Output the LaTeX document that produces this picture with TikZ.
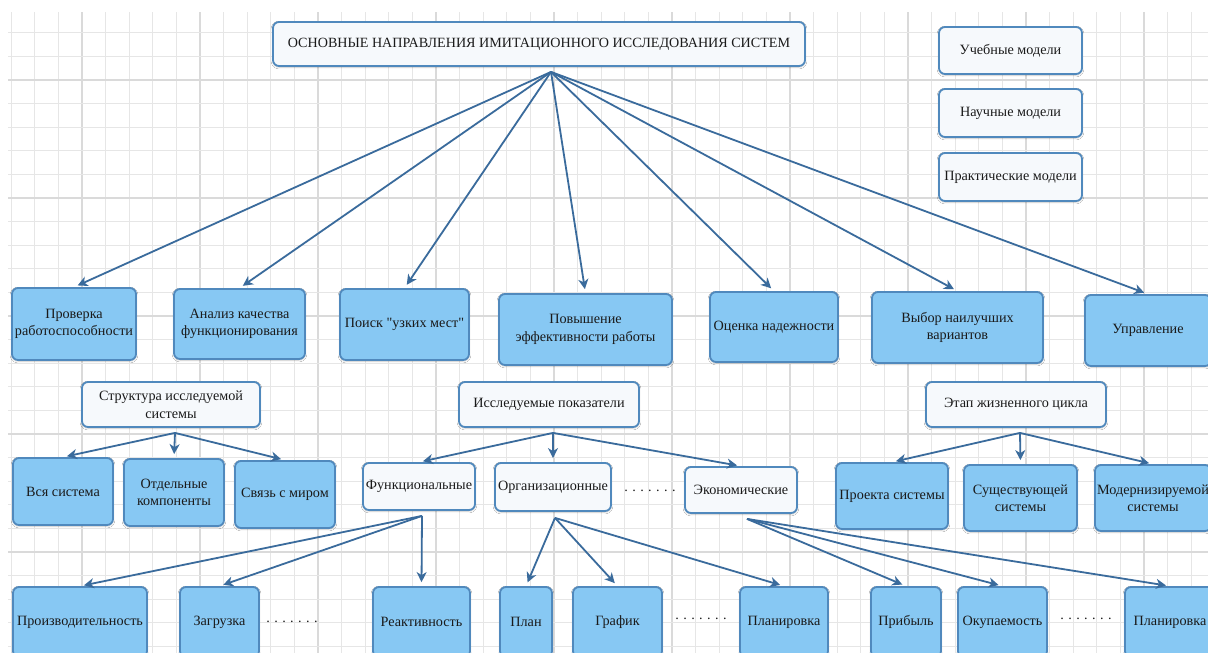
\documentclass[tikz,border=0pt]{standalone}
\usepackage{fontspec}
\setmainfont{Liberation Serif}[Ligatures=TeXOff]
\usetikzlibrary{arrows.meta,shadows.blur}
\definecolor{bluefill}{HTML}{87C8F3}
\definecolor{boxline}{HTML}{5089BD}
\definecolor{whitefill}{HTML}{F6F9FC}
\definecolor{arrowcol}{HTML}{3A6B9C}
\definecolor{gridminor}{HTML}{E6E6E6}
\definecolor{gridmajor}{HTML}{DADADA}
\definecolor{txt}{HTML}{1A1A1A}
\newcommand{\dotrow}{.\kern4.4pt.\kern4.4pt.\kern4.4pt.\kern4.4pt.\kern4.4pt.\kern4.4pt.}
\begin{document}
\begin{tikzpicture}[x=1pt,y=-1pt,
  box/.style={draw=boxline, line width=1.8pt, rounded corners=6pt, inner sep=1pt, align=center,
    font=\fontsize{14.2pt}{17.5pt}\selectfont, text=txt,
    blur shadow={shadow blur steps=6, shadow xshift=0pt, shadow yshift=-1pt, shadow opacity=25}},
  bluebox/.style={box, fill=bluefill},
  whitebox/.style={box, fill=whitefill},
  sz/.style 2 args={minimum width=#1pt, minimum height=#2pt},
  arr/.style={draw=arrowcol, line width=1.8pt, -{Stealth[length=10pt,width=10pt,inset=3pt]}, shorten >=4pt},
  dotlabel/.style={font=\fontsize{14.2pt}{16pt}\selectfont, text=txt, inner sep=0pt}
]
\useasboundingbox (0,0) rectangle (1208,653);
\clip (0,0) rectangle (1208,653);
\fill[white] (0,0) rectangle (1208,653);
% grid
\foreach \i in {-3,...,47} {
  \pgfmathsetmacro{\gx}{82+23.6*\i}
  \pgfmathtruncatemacro{\m}{mod(\i+100,5)}
  \ifnum\m=0
    \draw[gridmajor, line width=1.6pt] (\gx,12) -- (\gx,653);
  \else
    \draw[gridminor, line width=1pt] (\gx,12) -- (\gx,653);
  \fi
}
\foreach \i in {-2,...,25} {
  \pgfmathsetmacro{\gy}{80+23.6*\i}
  \pgfmathtruncatemacro{\m}{mod(\i+100,5)}
  \ifnum\m=0
    \draw[gridmajor, line width=1.6pt] (8,\gy) -- (1208,\gy);
  \else
    \draw[gridminor, line width=1pt] (8,\gy) -- (1208,\gy);
  \fi
}

% top
\node[whitebox, sz={532}{44}, font=\fontsize{14.1pt}{16pt}\selectfont] (top) at (539,44) {ОСНОВНЫЕ НАПРАВЛЕНИЯ ИМИТАЦИОННОГО ИССЛЕДОВАНИЯ СИСТЕМ};
\node[whitebox, sz={143}{47}] (m1) at (1010.5,50.5) {Учебные модели};
\node[whitebox, sz={143}{48}] (m2) at (1010.5,113) {Научные модели};
\node[whitebox, sz={143}{48}] (m3) at (1010.5,177) {Практические модели};

% level 2
\node[bluebox, sz={124}{72}] (p1) at (74,324) {Проверка\\работоспособности};
\node[bluebox, sz={131}{70}] (p2) at (239.5,324) {Анализ качества\\функционирования};
\node[bluebox, sz={129}{71}] (p3) at (404.5,324.5) {Поиск "узких мест"};
\node[bluebox, sz={173}{71}] (p4) at (585.5,329.5) {Повышение\\эффективности работы};
\node[bluebox, sz={128}{70}] (p5) at (774,327) {Оценка надежности};
\node[bluebox, sz={171}{71}] (p6) at (957.5,327.5) {Выбор наилучших\\вариантов};
\node[bluebox, sz={126}{71}] (p7) at (1148,330.5) {Управление};

% level 3
\node[whitebox, sz={178}{45}] (s) at (171,404.5) {Структура исследуемой\\системы};
\node[whitebox, sz={180}{45}] (i) at (549,404.5) {Исследуемые показатели};
\node[whitebox, sz={180}{45}] (e) at (1016,404.5) {Этап жизненного цикла};

% level 4
\node[bluebox, sz={100}{67}] (a1) at (63,491.5) {Вся система};
\node[bluebox, sz={100}{67}] (a2) at (174,492.5) {Отдельные\\компоненты};
\node[bluebox, sz={100}{67}] (a3) at (285,494.5) {Связь с миром};
\node[whitebox, sz={112}{47}] (b1) at (419,486.5) {Функциональные};
\node[whitebox, sz={116}{48}] (b2) at (553,487) {Организационные};
\node[dotlabel] (t1) at (650,491) {\dotrow};
\node[whitebox, sz={112}{46}] (b3) at (741,490) {Экономические};
\node[bluebox, sz={112}{66}] (c1) at (892,496) {Проекта системы};
\node[bluebox, sz={113}{66}] (c2) at (1020.5,498) {Существующей\\системы};
\node[bluebox, sz={116}{66}] (c3) at (1153,498) {Модернизируемой\\системы};

% level 5
\node[bluebox, sz={134}{70}] (d1) at (80,622) {Производительность};
\node[bluebox, sz={79}{70}] (d2) at (219.5,622) {Загрузка};
\node[dotlabel] (t2) at (292,622) {\dotrow};
\node[bluebox, sz={97}{70}] (d3) at (421.5,622) {Реактивность};
\node[bluebox, sz={52}{70}] (d4) at (526,622) {План};
\node[bluebox, sz={89}{70}] (d5) at (617.5,622) {График};
\node[dotlabel] (t3) at (701,619) {\dotrow};
\node[bluebox, sz={88}{70}] (d6) at (784,622) {Планировка};
\node[bluebox, sz={70}{70}] (d7) at (906,622) {Прибыль};
\node[bluebox, sz={89}{70}] (d8) at (1002.5,622) {Окупаемость};
\node[dotlabel] (t4) at (1086,619) {\dotrow};
\node[bluebox, sz={90}{70}] (d9) at (1170,622) {Планировка};

% arrows
\foreach \n in {p1,p2,p3,p4,p5,p6,p7}
  \draw[arr] ([xshift=12pt,yshift=-5pt]top.south) -- (\n.north);
\foreach \n in {a1,a2,a3}
  \draw[arr] ([xshift=4pt,yshift=-5pt]s.south) -- (\n.north);
\foreach \n in {b1,b2,b3}
  \draw[arr] ([xshift=4pt,yshift=-5pt]i.south) -- (\n.north);
\foreach \n in {c1,c2,c3}
  \draw[arr] ([xshift=4pt,yshift=-5pt]e.south) -- (\n.north);
\foreach \n in {d1,d2,d3}
  \draw[arr] ([xshift=3pt,yshift=-5pt]b1.south) -- (\n.north);
\foreach \n in {d4,d5,d6}
  \draw[arr] ([xshift=2pt,yshift=-6pt]b2.south) -- (\n.north);
\foreach \n in {d7,d8,d9}
  \draw[arr] ([xshift=6pt,yshift=-5pt]b3.south) -- (\n.north);
\end{tikzpicture}
\end{document}
